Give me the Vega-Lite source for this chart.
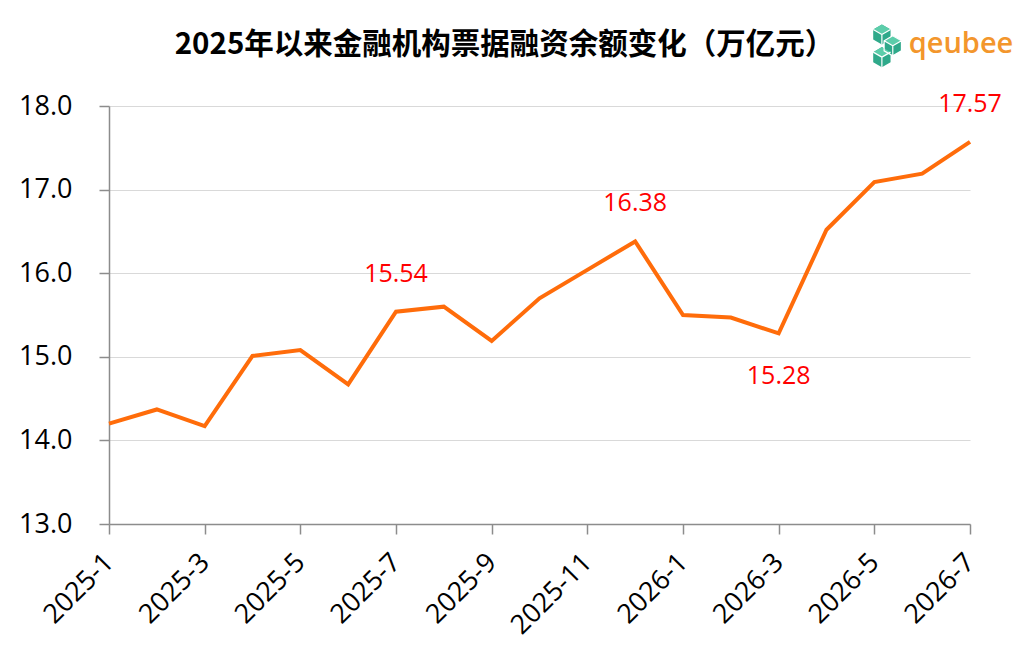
{
  "$schema": "https://vega.github.io/schema/vega-lite/v6.json",
  "width": 861,
  "height": 418,
  "autosize": "none",
  "padding": {"left": 109, "top": 106, "right": 54, "bottom": 140},
  "background": "white",
  "title": {
    "text": "2025年以来金融机构票据融资余额变化（万亿元）",
    "font": "Noto Sans CJK SC",
    "fontSize": 29.5,
    "fontWeight": "bold",
    "color": "black",
    "anchor": "middle",
    "dx": -35,
    "offset": -36
  },
  "config": {
    "view": {"stroke": null},
    "axis": {
      "labelFont": "Open Sans",
      "labelFontSize": 27,
      "labelColor": "black",
      "domainColor": "#8c8c8c",
      "domainWidth": 1.5,
      "tickColor": "#8c8c8c",
      "tickWidth": 1.5,
      "tickSize": 10,
      "title": null
    }
  },
  "datasets": {
    "series": [
      {"month": "2025-1", "value": 14.2},
      {"month": "2025-2", "value": 14.37},
      {"month": "2025-3", "value": 14.17},
      {"month": "2025-4", "value": 15.01},
      {"month": "2025-5", "value": 15.08},
      {"month": "2025-6", "value": 14.67},
      {"month": "2025-7", "value": 15.54},
      {"month": "2025-8", "value": 15.6},
      {"month": "2025-9", "value": 15.19},
      {"month": "2025-10", "value": 15.7},
      {"month": "2025-11", "value": 16.04},
      {"month": "2025-12", "value": 16.38},
      {"month": "2026-1", "value": 15.5},
      {"month": "2026-2", "value": 15.47},
      {"month": "2026-3", "value": 15.28},
      {"month": "2026-4", "value": 16.52},
      {"month": "2026-5", "value": 17.09},
      {"month": "2026-6", "value": 17.19},
      {"month": "2026-7", "value": 17.57}
    ],
    "logo": [
      {"month": "2026-7", "value": 18, "name": "qeubee"}
    ],
    "logoMark": [
      {"month": "2026-5", "value": 18.72}
    ]
  },
  "data": {"name": "series"},
  "encoding": {
    "x": {
      "field": "month",
      "type": "ordinal",
      "sort": null,
      "scale": {"type": "point", "padding": 0},
      "axis": {
        "values": ["2025-1", "2025-3", "2025-5", "2025-7", "2025-9", "2025-11", "2026-1", "2026-3", "2026-5", "2026-7"],
        "labelAngle": -45,
        "labelAlign": "right",
        "labelBaseline": "middle",
        "labelPadding": 24,
        "grid": false
      }
    },
    "y": {
      "field": "value",
      "type": "quantitative",
      "scale": {"domain": [13, 18], "nice": false, "zero": false},
      "axis": {
        "values": [13, 14, 15, 16, 17, 18],
        "format": ".1f",
        "labelPadding": 27,
        "grid": true,
        "gridColor": "#d9d9d9",
        "gridWidth": 1.2
      }
    }
  },
  "layer": [
    {
      "mark": {"type": "line", "color": "#ff6c0a", "strokeWidth": 4, "strokeJoin": "miter"}
    },
    {
      "transform": [{"filter": "indexof(['2025-7', '2025-12', '2026-7'], datum.month) >= 0"}],
      "mark": {"type": "text", "font": "Open Sans", "fontSize": 25, "color": "#ff0000", "dy": -38},
      "encoding": {"text": {"field": "value", "type": "quantitative", "format": ".2f"}}
    },
    {
      "transform": [{"filter": "datum.month == '2026-3'"}],
      "mark": {"type": "text", "font": "Open Sans", "fontSize": 25, "color": "#ff0000", "dy": 43},
      "encoding": {"text": {"field": "value", "type": "quantitative", "format": ".2f"}}
    },
    {
      "data": {"name": "logo"},
      "mark": {"type": "text", "font": "Open Sans", "fontSize": 29, "fontWeight": 600, "color": "#f3962c", "dx": -9, "dy": -62},
      "encoding": {"text": {"field": "name"}}
    },
    {
      "data": {"name": "logoMark"},
      "mark": {
        "type": "point",
        "shape": "M-0.25,-0.98L0.148,-0.75L0.148,-0.29L-0.25,-0.06L-0.648,-0.29L-0.648,-0.75ZM0.25,-0.46L0.648,-0.23L0.648,0.23L0.25,0.46L-0.148,0.23L-0.148,-0.23ZM-0.25,0.06L0.148,0.29L0.148,0.75L-0.25,0.98L-0.648,0.75L-0.648,0.29Z",
        "filled": true,
        "fill": "#2fa98a",
        "opacity": 1,
        "size": 1900
      },
      "encoding": {"xOffset": {"value": 13}}
    },
    {
      "data": {"name": "logoMark"},
      "mark": {
        "type": "point",
        "shape": "M-0.25,-0.52L-0.648,-0.75L-0.25,-0.98L0.148,-0.75ZM0.25,0L-0.148,-0.23L0.25,-0.46L0.648,-0.23ZM-0.25,0.52L-0.648,0.29L-0.25,0.06L0.148,0.29Z",
        "filled": true,
        "fill": "#5ccdaa",
        "opacity": 1,
        "size": 1900
      },
      "encoding": {"xOffset": {"value": 13}}
    },
    {
      "data": {"name": "logoMark"},
      "mark": {
        "type": "point",
        "shape": "M-0.25,-0.52L-0.25,-0.06M-0.25,-0.52L-0.648,-0.75M-0.25,-0.52L0.148,-0.75M0.25,0L0.25,0.46M0.25,0L-0.148,-0.23M0.25,0L0.648,-0.23M-0.25,0.52L-0.25,0.98M-0.25,0.52L-0.648,0.29M-0.25,0.52L0.148,0.29M0.25,-0.46L0.648,-0.23L0.648,0.23L0.25,0.46L-0.148,0.23L-0.148,-0.23Z",
        "filled": false,
        "stroke": "white",
        "strokeWidth": 1.2,
        "opacity": 1,
        "size": 1900
      },
      "encoding": {"xOffset": {"value": 13}}
    }
  ]
}
